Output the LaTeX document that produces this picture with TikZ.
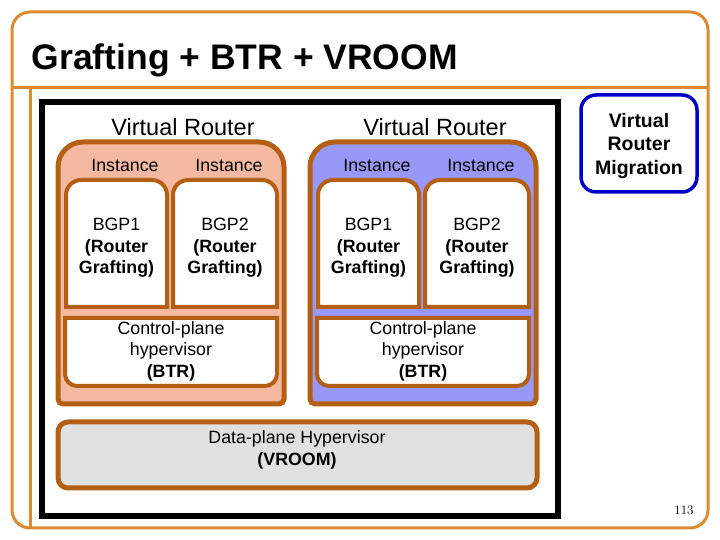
\documentclass[tikz,border=0pt]{standalone}
\usepackage{fontspec}
\newfontfamily\arial{Liberation Sans}
\definecolor{frameorange}{RGB}{222,138,46}
\definecolor{vrbrown}{RGB}{180,95,20}
\definecolor{salmon}{RGB}{245,184,160}
\definecolor{lilac}{RGB}{152,152,248}
\definecolor{dpgrey}{RGB}{224,224,224}
\definecolor{migblue}{RGB}{0,0,200}

\begin{document}
\begin{tikzpicture}[x=1pt, y=1pt,
  lbl/.style={font=\arial\fontsize{17.8}{21.5}\selectfont, align=center, inner sep=0pt},
  vrbox/.style={draw=vrbrown, line width=5pt},
  inbox/.style={draw=vrbrown, line width=4pt, fill=white}]
\useasboundingbox (0,0) rectangle (720,540);
% slide frame
\draw[frameorange, line width=3pt, rounded corners=18pt] (12,12) rectangle (708,528);
\draw[frameorange, line width=3pt] (12,452) -- (708,452) (30,452) -- (30,12);
\node[anchor=base west, inner sep=0pt, font=\arial\bfseries\fontsize{35.5}{40}\selectfont] (title) at (31.5,470) {Grafting + BTR + VROOM};
\draw[line width=6pt] (42,24) rectangle (558,438);

% two virtual routers
\foreach \dx/\fc/\s in {0/salmon/a, 252/lilac/b} {
\begin{scope}[xshift=\dx pt]
\path[vrbox, fill=\fc] (58,141) -- (58,373) arc[start angle=180, end angle=90, radius=25pt] -- (259,398) arc[start angle=90, end angle=0, radius=25pt] -- (284,141) arc[start angle=0, end angle=-90, radius=5pt] -- (63,136) arc[start angle=270, end angle=180, radius=5pt] -- cycle;
\node[font=\arial\fontsize{23.5}{26}\selectfont] (vr\s) at (183,413) {Virtual Router};
\node[lbl] (inst\s1) at (125,375) {Instance};
\node[lbl] (inst\s2) at (229,375) {Instance};
\path[inbox] (66,233) -- (66,345) arc[start angle=180, end angle=90, radius=15pt] -- (152,360) arc[start angle=90, end angle=0, radius=15pt] -- (167,233) -- cycle;
\path[inbox] (173,233) -- (173,345) arc[start angle=180, end angle=90, radius=15pt] -- (262,360) arc[start angle=90, end angle=0, radius=15pt] -- (277,233) -- cycle;
\node[lbl] (bgp\s1) at (116.5,292) {BGP1\\\textbf{(Router}\\\textbf{Grafting)}};
\node[lbl] (bgp\s2) at (225,292) {BGP2\\\textbf{(Router}\\\textbf{Grafting)}};
\path[inbox] (65,222) -- (277,222) -- (277,166) arc[start angle=0, end angle=-90, radius=12pt] -- (77,154) arc[start angle=270, end angle=180, radius=12pt] -- cycle;
\node[lbl] (cp\s) at (171,189) {Control-plane\\hypervisor\\\textbf{(BTR)}};
\end{scope}
}

% data plane
\path[vrbox, fill=dpgrey, rounded corners=10pt] (58,52) rectangle (537,118);
\node[lbl] (dp) at (297,90) {Data-plane Hypervisor\\\textbf{(VROOM)}};

\draw[migblue, line width=3.5pt, rounded corners=15pt] (581,348) rectangle (697,445);
\node[align=center, inner sep=0pt, font=\arial\bfseries\fontsize{19.5}{23.5}\selectfont] (mig) at (639,394) {Virtual\\Router\\Migration};

\node[font=\fontsize{13}{15}\selectfont] (pagenum) at (684,30) {113};
\end{tikzpicture}
\end{document}
